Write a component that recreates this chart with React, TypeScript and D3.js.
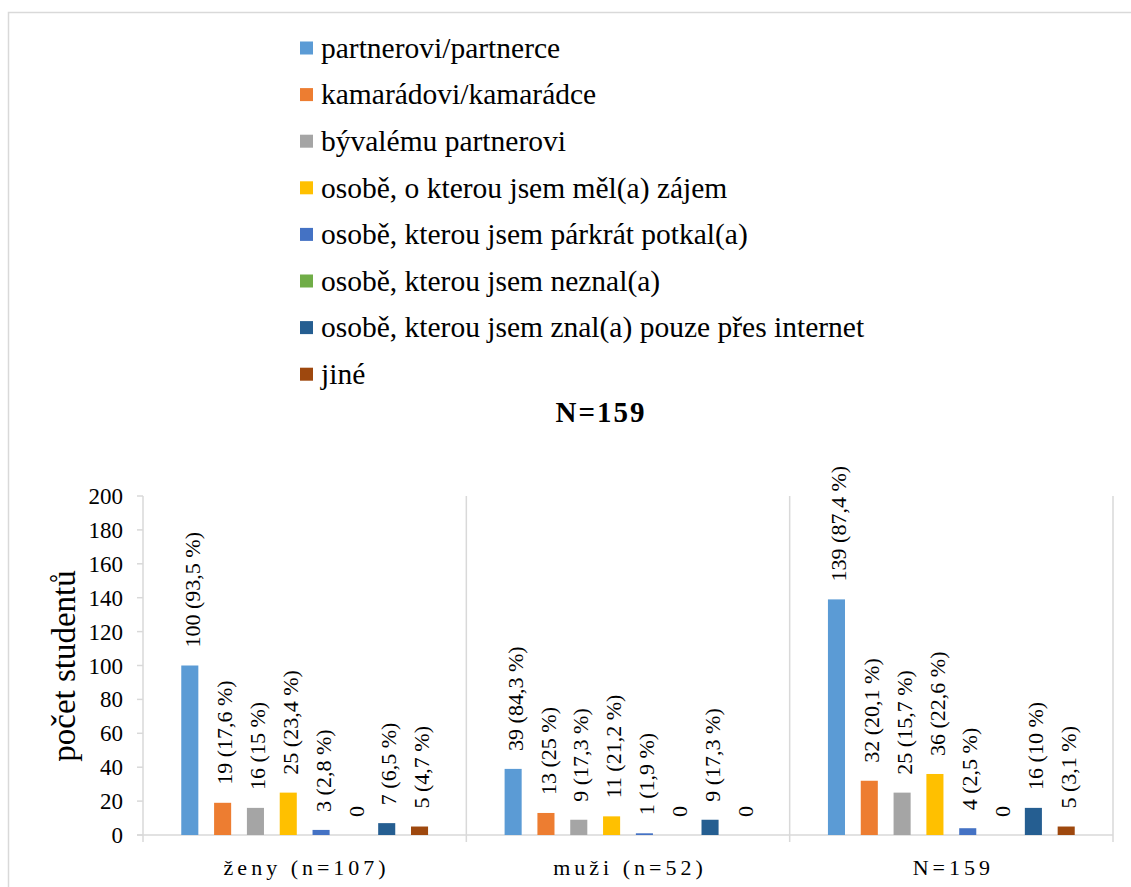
import React, { useEffect, useRef } from 'react';
import * as d3 from 'd3';

const categories = ['ženy (n=107)', 'muži (n=52)', 'N=159'];

const seriesNames = [
  'partnerovi/partnerce',
  'kamarádovi/kamarádce',
  'bývalému partnerovi',
  'osobě, o kterou jsem měl(a) zájem',
  'osobě, kterou jsem párkrát potkal(a)',
  'osobě, kterou jsem neznal(a)',
  'osobě, kterou jsem znal(a) pouze přes internet',
  'jiné',
];

const seriesColors = ['#5B9BD5', '#ED7D31', '#A5A5A5', '#FFC000', '#4472C4', '#70AD47', '#255E91', '#9E480E'];

const zenyValues = [100, 19, 16, 25, 3, 0, 7, 5];
const zenyPct = ['93,5', '17,6', '15', '23,4', '2,8', '', '6,5', '4,7'];
const muziValues = [39, 13, 9, 11, 1, 0, 9, 0];
const muziPct = ['84,3', '25', '17,3', '21,2', '1,9', '', '17,3', ''];
const totalValues = [139, 32, 25, 36, 4, 0, 16, 5];
const totalPct = ['87,4', '20,1', '15,7', '22,6', '2,5', '', '10', '3,1'];

const yTicks = [0, 20, 40, 60, 80, 100, 120, 140, 160, 180, 200];

const W = 1131;
const H = 887;
const FONT = "'Liberation Serif', 'Times New Roman', Tinos, serif";
const GRID = '#d9d9d9';

export default function App() {
  const svgRef = useRef<SVGSVGElement>(null);

  useEffect(() => {
    const svg = d3.select(svgRef.current);
    svg.selectAll('*').remove();

    const groups = [
      { cat: categories[0], values: zenyValues, pct: zenyPct },
      { cat: categories[1], values: muziValues, pct: muziPct },
      { cat: categories[2], values: totalValues, pct: totalPct },
    ];

    // outer frame
    svg.append('rect')
      .attr('x', 8.5).attr('y', 12.5)
      .attr('width', W + 20).attr('height', H + 20)
      .attr('fill', 'none').attr('stroke', GRID).attr('stroke-width', 1.5);

    const x0 = d3.scaleBand().domain(categories).range([143, 1113]).padding(0);
    const x1 = d3.scaleBand<number>()
      .domain(d3.range(seriesNames.length))
      .range([0, x0.bandwidth() * 0.812])
      .paddingInner(0.48).paddingOuter(0.24);
    const offset = (x0.bandwidth() - x1.range()[1]) / 2;
    const y = d3.scaleLinear().domain([0, 200]).range([835, 496]);

    // category separators
    const seps = categories.map(c => x0(c) as number).concat([x0.range()[1]]);
    svg.append('g').selectAll('line').data(seps).enter().append('line')
      .attr('x1', d => d).attr('x2', d => d)
      .attr('y1', y(200)).attr('y2', y(0) + 7)
      .attr('stroke', GRID).attr('stroke-width', 1.5);

    // x axis line
    svg.append('line')
      .attr('x1', 137).attr('x2', x0.range()[1])
      .attr('y1', y(0)).attr('y2', y(0))
      .attr('stroke', GRID).attr('stroke-width', 1.5);

    // y ticks + labels
    const yAxis = svg.append('g');
    yAxis.selectAll('line').data(yTicks).enter().append('line')
      .attr('x1', 137).attr('x2', 143)
      .attr('y1', d => y(d)).attr('y2', d => y(d))
      .attr('stroke', GRID).attr('stroke-width', 1.5);
    yAxis.selectAll('text').data(yTicks).enter().append('text')
      .attr('x', 123).attr('y', d => y(d)).attr('dy', '0.35em')
      .attr('text-anchor', 'end')
      .attr('font-family', FONT).attr('font-size', 23).attr('fill', '#000')
      .text(d => d);

    // y title
    svg.append('text')
      .attr('transform', `translate(75,${666}) rotate(-90)`)
      .attr('text-anchor', 'middle')
      .attr('font-family', FONT).attr('font-size', 33).attr('fill', '#000')
      .text('počet studentů');

    // bars
    groups.forEach(g => {
      const gx = (x0(g.cat) as number) + offset;
      const sel = svg.append('g').attr('transform', `translate(${gx},0)`);
      sel.selectAll('rect').data(g.values).enter().append('rect')
        .attr('x', (_, i) => x1(i) as number)
        .attr('width', x1.bandwidth())
        .attr('y', d => y(d))
        .attr('height', d => y(0) - y(d))
        .attr('fill', (_, i) => seriesColors[i]);
      sel.selectAll('text').data(g.values).enter().append('text')
        .attr('transform', (d, i) => `translate(${(x1(i) as number) + x1.bandwidth() / 2 + 2},${y(d) - 18}) rotate(-90)`)
        .attr('dy', '0.35em')
        .attr('text-anchor', 'start')
        .attr('font-family', FONT).attr('font-size', 22).attr('fill', '#000')
        .text((d, i) => (d === 0 ? '0' : `${d} (${g.pct[i]} %)`));
    });

    // category labels
    svg.append('g').selectAll('text').data(categories).enter().append('text')
      .attr('x', d => (x0(d) as number) + x0.bandwidth() / 2 + 2)
      .attr('y', 875)
      .attr('text-anchor', 'middle')
      .attr('font-family', FONT).attr('font-size', 22).attr('letter-spacing', 4).attr('fill', '#000')
      .text(d => d);

    // title
    svg.append('text')
      .attr('x', 601).attr('y', 422)
      .attr('text-anchor', 'middle')
      .attr('font-family', FONT).attr('font-size', 29).attr('font-weight', 'bold')
      .attr('letter-spacing', 2).attr('fill', '#000')
      .text('N=159');

    // legend
    const legend = svg.append('g').selectAll('g').data(seriesNames).enter().append('g')
      .attr('transform', (_, i) => `translate(300,${48 + i * 46.6})`);
    legend.append('rect')
      .attr('x', 0).attr('y', -6.5).attr('width', 13).attr('height', 13)
      .attr('fill', (_, i) => seriesColors[i]);
    legend.append('text')
      .attr('x', 21).attr('y', 0).attr('dy', '0.33em')
      .attr('font-family', FONT).attr('font-size', 29.5).attr('fill', '#000')
      .text(d => d);
  }, []);

  return (
    <svg
      ref={svgRef}
      width={W}
      height={H}
      style={{ position: 'absolute', left: 0, top: 0, background: '#fff' }}
    />
  );
}
